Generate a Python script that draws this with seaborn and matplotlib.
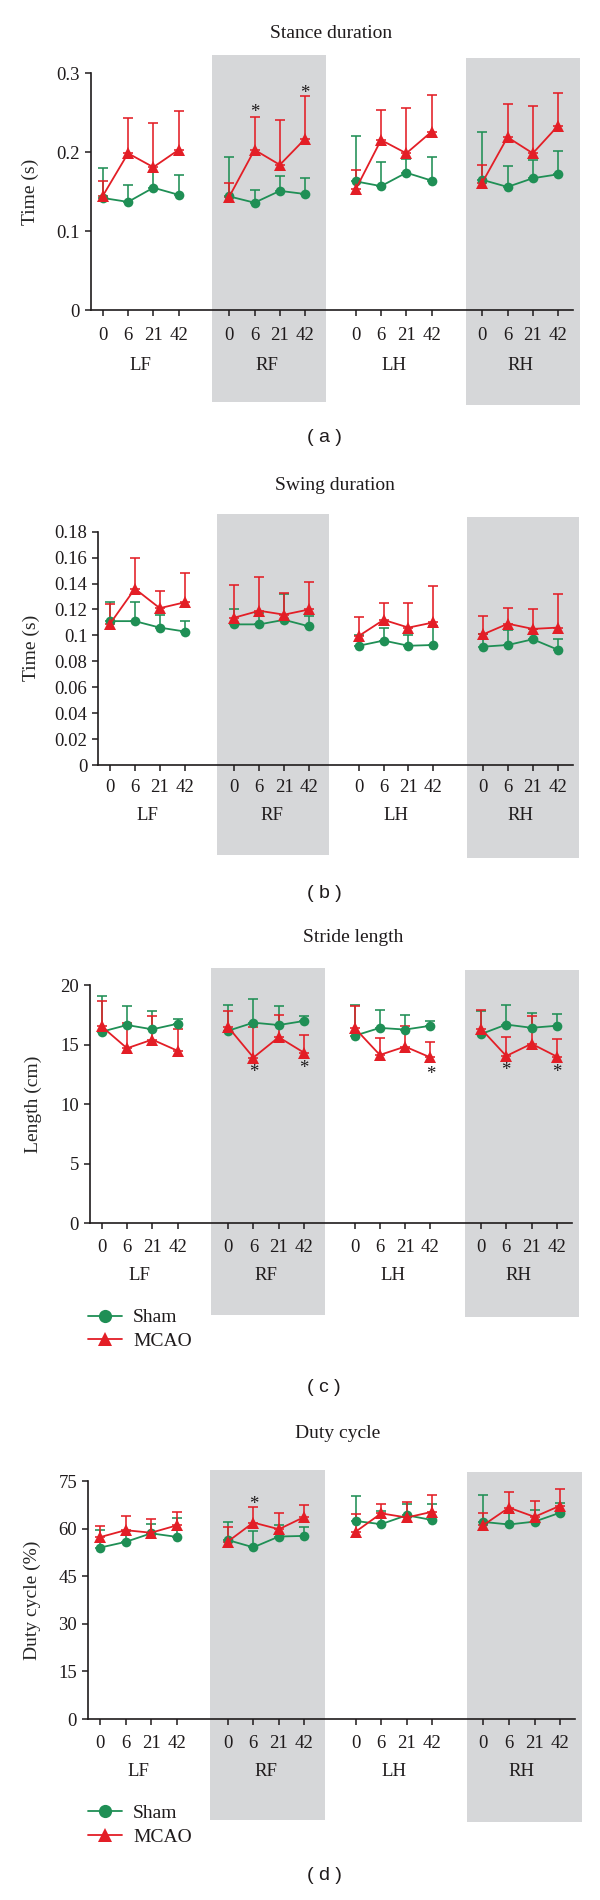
import matplotlib
matplotlib.use("Agg")
import matplotlib.pyplot as plt
from matplotlib.lines import Line2D
from matplotlib.patches import Rectangle
from matplotlib.transforms import blended_transform_factory
import pandas as pd
import seaborn as sns

limbs = ["LF", "RF", "LH", "RH"]
days = ["0", "6", "21", "42"]
groups = ["Sham", "MCAO"]

# (a) stance duration, s  -- mean and top of the error bar
stance_sham = [0.142, 0.137, 0.155, 0.146, 0.144, 0.136, 0.151, 0.147,
               0.163, 0.157, 0.174, 0.164, 0.165, 0.156, 0.167, 0.172]
stance_sham_top = [0.180, 0.159, 0.175, 0.171, 0.194, 0.152, 0.170, 0.167,
                   0.220, 0.188, 0.192, 0.194, 0.225, 0.182, 0.190, 0.201]
stance_mcao = [0.1445, 0.1986, 0.181, 0.203, 0.1436, 0.203, 0.184, 0.217,
               0.153, 0.2155, 0.1986, 0.226, 0.1614, 0.219, 0.1986, 0.2336]
stance_mcao_top = [0.163, 0.243, 0.237, 0.252, 0.161, 0.245, 0.241, 0.271,
                   0.177, 0.254, 0.256, 0.273, 0.184, 0.261, 0.259, 0.275]

# (b) swing duration, s
swing_sham = [0.111, 0.111, 0.106, 0.103, 0.1085, 0.1085, 0.112, 0.107,
              0.092, 0.096, 0.092, 0.0926, 0.0913, 0.0926, 0.097, 0.089]
swing_sham_top = [0.126, 0.126, 0.116, 0.111, 0.1206, 0.117, 0.1317, 0.115,
                  0.100, 0.106, 0.100, 0.107, 0.101, 0.104, 0.105, 0.097]
swing_mcao = [0.109, 0.136, 0.121, 0.1255, 0.1137, 0.119, 0.116, 0.120,
              0.0995, 0.112, 0.106, 0.110, 0.1008, 0.109, 0.105, 0.106]
swing_mcao_top = [0.124, 0.160, 0.134, 0.148, 0.139, 0.145, 0.1325, 0.141,
                  0.1144, 0.125, 0.125, 0.138, 0.115, 0.121, 0.120, 0.132]

# (c) stride length, cm
stride_sham = [16.08, 16.64, 16.28, 16.75, 16.16, 16.84, 16.64, 16.98,
               15.74, 16.40, 16.26, 16.58, 15.88, 16.68, 16.41, 16.58]
stride_sham_top = [19.1, 18.24, 17.85, 17.14, 18.32, 18.82, 18.24, 17.42,
                   18.28, 17.89, 17.47, 16.96, 17.85, 18.32, 17.62, 17.55]
stride_mcao = [16.52, 14.69, 15.42, 14.48, 16.47, 13.91, 15.62, 14.32,
               16.4, 14.13, 14.83, 13.92, 16.33, 14.04, 15.07, 13.99]
stride_mcao_top = [18.65, 16.78, 17.38, 16.31, 17.85, 16.5, 17.52, 15.8,
                   18.26, 15.58, 16.6, 15.25, 17.9, 15.6, 17.4, 15.46]

# (d) duty cycle, %
duty_sham = [54.0, 55.8, 58.5, 57.4, 56.4, 54.1, 57.5, 57.7,
             62.4, 61.4, 64.2, 62.7, 62.1, 61.3, 62.2, 65.0]
duty_sham_top = [59.5, 59.4, 61.5, 63.4, 62.2, 59.1, 61.0, 60.4,
                 70.3, 65.5, 67.6, 67.9, 70.5, 65.2, 65.9, 68.0]
duty_mcao = [57.3, 59.5, 58.7, 61.0, 55.9, 61.9, 59.8, 63.7,
             59.0, 64.8, 63.5, 65.3, 61.1, 66.6, 63.7, 67.2]
duty_mcao_top = [60.9, 64.0, 63.0, 65.1, 60.6, 66.9, 64.8, 67.4,
                 64.6, 67.8, 68.3, 70.5, 65.0, 71.4, 68.8, 72.5]

# significance stars: (limb, day, y)
stance_stars = [("RF", "6", 0.2556), ("RF", "42", 0.2797)]
stride_stars = [("RF", "6", 13.0), ("RF", "42", 13.37), ("LH", "42", 12.87),
                ("RH", "6", 13.2), ("RH", "42", 13.0)]
duty_stars = [("RF", "6", 68.8)]

stance_ticks = ["0", "0.1", "0.2", "0.3"]
swing_ticks = ["0", "0.02", "0.04", "0.06", "0.08", "0.1", "0.12", "0.14", "0.16", "0.18"]
stride_ticks = ["0", "5", "10", "15", "20"]
duty_ticks = ["0", "15", "30", "45", "60", "75"]

GREEN = "#1f8f55"
RED = "#e31e26"
GRAY = "#d6d7d9"
INK = "#1f1b1c"
W, H = 600, 1900

sns.set_style("ticks")
plt.rcParams["font.family"] = ["Liberation Serif", "DejaVu Serif"]
plt.rcParams["text.color"] = INK
plt.rcParams["axes.edgecolor"] = INK
plt.rcParams["xtick.color"] = INK
plt.rcParams["ytick.color"] = INK


def xpos(limb, day):
    return limbs.index(limb) * 5 + days.index(day)


def make_df(sham, mcao, sham_top, mcao_top):
    rows = []
    for name, m, t in [("Sham", sham, sham_top), ("MCAO", mcao, mcao_top)]:
        k = 0
        for limb in limbs:
            for day in days:
                rows.append(dict(group=name, limb=limb, day=day,
                                 x=xpos(limb, day), value=m[k], top=t[k]))
                k += 1
    return pd.DataFrame(rows)


panels = [
    dict(title="Stance duration", ylabel="Time (s)", tag="( a )",
         df=make_df(stance_sham, stance_mcao, stance_sham_top, stance_mcao_top),
         ticks=stance_ticks, stars=stance_stars, legend=False,
         box=(90.6, 573.3, 73.3, 310), title_xy=(331, 33), tag_y=438,
         ylab_x=30, tpad=7.7, cat_off=55,
         shade=[(1.077, -0.389), (1.066, -0.401)]),
    dict(title="Swing duration", ylabel="Time (s)", tag="( b )",
         df=make_df(swing_sham, swing_mcao, swing_sham_top, swing_mcao_top),
         ticks=swing_ticks, stars=[], legend=False,
         box=(98.1, 572.6, 531.7, 765), title_xy=(335, 486), tag_y=893,
         ylab_x=31.5, tpad=5.5, cat_off=50,
         shade=[(1.076, -0.386), (1.063, -0.399)]),
    dict(title="Stride length", ylabel="Length (cm)", tag="( c )",
         df=make_df(stride_sham, stride_mcao, stride_sham_top, stride_mcao_top),
         ticks=stride_ticks, stars=stride_stars, legend=True,
         box=(89.6, 572, 985, 1223.3), title_xy=(353, 937), tag_y=1388,
         ylab_x=33, tpad=6.8, cat_off=52,
         shade=[(1.071, -0.385), (1.063, -0.393)]),
    dict(title="Duty cycle", ylabel="Duty cycle (%)", tag="( d )",
         df=make_df(duty_sham, duty_mcao, duty_sham_top, duty_mcao_top),
         ticks=duty_ticks, stars=duty_stars, legend=True,
         box=(87.7, 575.4, 1481, 1719), title_xy=(338, 1434), tag_y=1876,
         ylab_x=32, tpad=7.2, cat_off=52.5,
         shade=[(1.046, -0.424), (1.038, -0.433)]),
]

style = {"Sham": dict(color=GREEN, marker="o", ms=7.0),
         "MCAO": dict(color=RED, marker="^", ms=8.2)}

fig = plt.figure(figsize=(W / 100, H / 100), dpi=100)

for p in panels:
    left, right, top, bottom = p["box"]
    ax = fig.add_axes([left / W, 1 - bottom / H, (right - left) / W, (bottom - top) / H])
    ax.set_facecolor("none")
    df = p["df"]
    ymax = float(p["ticks"][-1])

    # grey bands behind RF and RH, reaching past the axes
    trans = blended_transform_factory(ax.transData, ax.transAxes)
    for (x0, x1), (yt, yb) in zip([(4.32, 8.82), (14.37, 18.87)], p["shade"]):
        ax.add_patch(Rectangle((x0, yb), x1 - x0, yt - yb, transform=trans,
                               facecolor=GRAY, edgecolor="none", clip_on=False, zorder=-5))

    for g in groups:
        sub = df[df.group == g]
        st = style[g]
        ax.errorbar(sub.x, sub.value, yerr=[sub.value * 0, sub.top - sub.value],
                    fmt="none", ecolor=st["color"], elinewidth=1.15,
                    capsize=3.6, capthick=1.15, zorder=1.5)
    for g in groups:
        sub = df[df.group == g]
        st = style[g]
        sns.lineplot(data=sub, x="x", y="value", units="limb", estimator=None,
                     color=st["color"], marker=st["marker"], markersize=st["ms"],
                     markeredgewidth=0, linewidth=1.3, legend=False, ax=ax, zorder=3)

    for limb, day, y in p["stars"]:
        ax.annotate("*", (xpos(limb, day), y), xytext=(0, -3), textcoords="offset points",
                    ha="center", va="center", fontsize=13.5, zorder=4)

    ax.set_xlim(-0.48, 18.6)
    ax.set_ylim(0, ymax)
    ax.set_xticks([xpos(l, d) for l in limbs for d in days])
    ax.set_xticklabels(days * 4)
    ax.set_yticks([float(t) for t in p["ticks"]])
    ax.set_yticklabels(p["ticks"])
    sns.despine(ax=ax)
    for s in ["left", "bottom"]:
        ax.spines[s].set_linewidth(1.2)
    ax.tick_params(axis="both", direction="out", length=4.3, width=1.1, labelsize=13.5)
    ax.tick_params(axis="x", pad=p["tpad"])
    ax.tick_params(axis="y", pad=3.4)
    ax.set_xlabel("")
    ax.set_ylabel(p["ylabel"], fontsize=14)
    ax.yaxis.set_label_coords((p["ylab_x"] - left) / (right - left), 0.5)
    ax.yaxis.label.set_verticalalignment("center")

    hgt = bottom - top
    for limb in limbs:
        ax.text(xpos(limb, "0") + 1.5, -p["cat_off"] / hgt, limb, transform=trans,
                ha="center", va="center", fontsize=13.5)

    fig.text(p["title_xy"][0] / W, 1 - p["title_xy"][1] / H, p["title"],
             ha="center", va="center", fontsize=14)
    fig.text(324 / W, 1 - p["tag_y"] / H, p["tag"], ha="center", va="center",
             fontsize=14, family=["Liberation Sans", "DejaVu Sans"])

    if p["legend"]:
        handles = [Line2D([], [], color=style[g]["color"], marker=style[g]["marker"],
                          markersize=9.5, markeredgewidth=0, linewidth=1.3) for g in groups]
        ax.legend(handles, groups, loc="upper left",
                  bbox_to_anchor=((88 - left) / (right - left), -85.5 / hgt),
                  frameon=False, fontsize=14, borderpad=0, borderaxespad=0,
                  handlelength=1.75, handletextpad=0.57, labelspacing=0.31)

fig.savefig("out.png", dpi=100)
